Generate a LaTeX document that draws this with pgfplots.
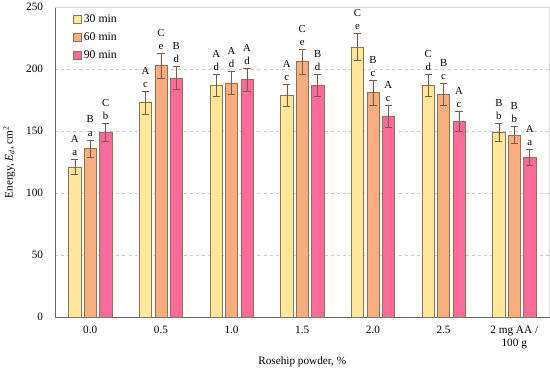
\documentclass[border=0pt]{standalone}
\usepackage{fontspec}
\setmainfont{Liberation Serif}
\usepackage{pgfplots}
\usepackage{pgfplotstable}
\pgfplotsset{compat=1.18}
\definecolor{cY}{HTML}{FFE699}
\definecolor{cO}{HTML}{F8AD7E}
\definecolor{cP}{HTML}{FB6A98}
\definecolor{cB}{HTML}{85765C}
\definecolor{cErr}{HTML}{7A5A4A}

\pgfplotstableread{
x y err lab
0 121 6 A\\a
1 173 9 A\\c
2 187 9 A\\d
3 179 9 A\\c
4 218 11 C\\e
5 187 9 C\\d
6 149 7.5 B\\b
}\tA
\pgfplotstableread{
x y err lab
0 136 7 B\\a
1 203 10 C\\e
2 189 9 A\\d
3 206 10 C\\e
4 181 10 B\\c
5 179.5 9 B\\c
6 147 7 B\\b
}\tB
\pgfplotstableread{
x y err lab
0 149 7 C\\b
1 193 9 B\\d
2 191.5 9 A\\d
3 187 9 B\\d
4 162 8.5 A\\c
5 158 8 A\\c
6 129 6.5 A\\a
}\tC

\begin{document}
\begin{tikzpicture}
\begin{axis}[
  scale only axis,
  width=482bp, height=302bp,
  ybar, bar width=12bp,
  ymin=0, ymax=250,
  xmin=-0.5, xmax=6.5,
  ytick={0,50,100,150,200,250},
  xtick={0,1,2,3,4,5,6},
  xticklabels={0.0,0.5,1.0,1.5,2.0,2.5,{2 mg AA /\\100 g}},
  xticklabel style={align=center, font=\fontsize{11}{12.5}\selectfont, yshift=-5bp},
  yticklabel style={font=\fontsize{11}{12}\selectfont, xshift=-8bp},
  /pgf/number format/assume math mode=true,
  major tick length=0pt,
  ymajorgrids,
  grid style={dashed, gray!40},
  axis x line*=bottom, axis y line*=left,
  axis line style={gray!80!black, line width=0.8pt},
  xlabel={Rosehip powder, \%},
  ylabel={Energy, \textit{E}\textsubscript{\textit{d}}, cm\textsuperscript{2}},
  label style={font=\fontsize{11}{12}\selectfont},
  ylabel style={yshift=4bp},
  xlabel style={yshift=-1bp},
  legend style={at={(0.03,0.99)}, anchor=north west, draw=none, fill=none,
    font=\fontsize{11.5}{13}\selectfont, row sep=4.5pt},
  legend image code/.code={\draw[#1, draw=cB] (0bp,-4bp) rectangle (8bp,4bp);},
  every axis plot/.append style={draw=cB, line width=0.5pt,
    error bars/y dir=both, error bars/y explicit,
    error bars/error bar style={cErr, line width=0.6pt},
    error bars/error mark options={rotate=90, mark size=3.5bp, cErr, line width=0.6pt}},
  point meta=explicit symbolic,
  nodes near coords,
  visualization depends on={\thisrow{err} \as \myerr},
  every node near coord/.append style={align=center, anchor=south,
    font=\fontsize{10.5}{13}\selectfont, text=black,
    shift={(axis direction cs:0,\myerr)}, yshift=0bp},
  clip=false,
]
\addplot[fill=cY, bar shift=-15bp] table[x=x, y=y, y error=err, meta=lab] {\tA};
\addplot[fill=cO, bar shift=0bp] table[x=x, y=y, y error=err, meta=lab] {\tB};
\addplot[fill=cP, bar shift=15bp] table[x=x, y=y, y error=err, meta=lab] {\tC};
\legend{30 min, 60 min, 90 min}
\draw[gray!30, line width=0.6pt] (rel axis cs:0,1) -- (rel axis cs:1,1) -- (rel axis cs:1,0);
\end{axis}
\end{tikzpicture}
\end{document}
